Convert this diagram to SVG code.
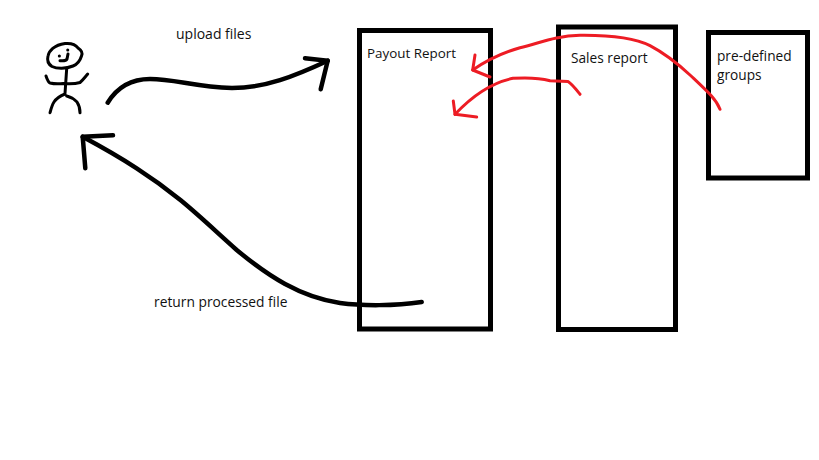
<svg xmlns="http://www.w3.org/2000/svg" width="819" height="460" viewBox="0 0 819 460">
<style>
.box{fill:none;stroke:#000;stroke-width:5}
.lbl{font-family:"Open Sans","Noto Sans",sans-serif;font-size:13.7px;fill:#111}
.blk{fill:none;stroke:#000;stroke-width:4.5;stroke-linecap:round;stroke-linejoin:round}
.red{fill:none;stroke:#ed1c24;stroke-width:3;stroke-linecap:round;stroke-linejoin:round}
.fig{fill:none;stroke:#000;stroke-width:3;stroke-linecap:round;stroke-linejoin:round}
</style>
<rect width="819" height="460" fill="#fff"/>
<g id="user">
<path class="fig" d="M65 43.5C71 43 76 45 78 48C81 50 83 53 81.5 56C80 61 78 64 73 66C66 69 57 69 52 66.5C48 64 47 60 48 56C49 51 54 45 65 43.5Z"/>
<path class="fig" d="M60 60.7C63 61 66 61 67 59L68 54"/>
<path class="fig" d="M59.3 56h.1M67.7 50h.1"/>
<path class="fig" d="M66.7 68.3L65 93.5M46 76C47 79 48 82 50 83C54 84 59 84 63.3 83.5C69 84 75 84 80 82.5C83 80 85 77 87.7 74M65 94C60 96 56 99 54 102C52 105 51 109 50 112.7M66.7 96C71 97 75 100 77 102C79 105 80 109 80 112.7"/>
</g>
<g id="payout-report">
<rect class="box" x="359.5" y="30.5" width="131" height="298.5"/>
<text class="lbl" x="367" y="58" style="font-size:13.4px">Payout Report</text>
</g>
<g id="sales-report">
<rect class="box" x="558.5" y="27" width="117" height="302.5"/>
<text class="lbl" x="571" y="63">Sales report</text>
</g>
<g id="pre-defined-groups">
<rect class="box" x="708.5" y="32.5" width="99" height="145.5"/>
<text class="lbl" x="717" y="61">pre-defined</text>
<text class="lbl" x="717" y="80">groups</text>
</g>
<g id="labels">
<text class="lbl" x="176" y="39" style="font-size:14px">upload files</text>
<text class="lbl" x="154" y="307" style="font-size:13.8px">return processed file</text>
</g>
<g id="connectors">
<path class="blk" d="M107.7 102.7C118 86 132 79 150 79C175 79 195 87 232 88C265 88 295 76 327.7 60.7"/>
<path class="blk" d="M305 58.3L327.7 60.7L320.7 89.3"/>
<path class="blk" d="M421.7 302C395 306 362 306 340 303C300 297 268 276 236.7 250C205 222 180 196 136.7 168.3C118 156 100 146 82.7 136.7"/>
<path class="blk" d="M113 135.3L82.7 136.7L85.3 168.3"/>
<path class="red" d="M720 109.3C716 99 708 92 690 75C678 64 662 52 650 45.7C635 38 610 35 580 35.3C555 36 540 43 520 47.7C505 52 490 58 472.7 70"/>
<path class="red" d="M475 55L472.7 70L490 77"/>
<path class="red" d="M580 94.3C575 88 572 84 568 81.5L550 80.7C540 78 525 77.5 513 78.3C495 82 475 93 455 114.3"/>
<path class="red" d="M453.3 101L455 114.3L476.7 117"/>
</g>
</svg>
